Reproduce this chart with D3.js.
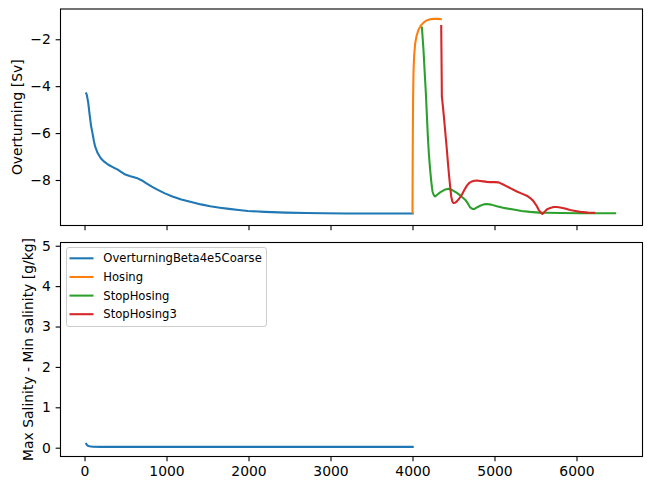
<!DOCTYPE html>
<html>
<head>
<meta charset="utf-8">
<script src="https://cdn.jsdelivr.net/npm/d3@7"></script>
<style>
  html, body { margin: 0; padding: 0; background: #fff; }
  svg { display: block; }
  text { font-family: "DejaVu Sans", sans-serif; fill: #000; }
</style>
</head>
<body>
<script>
// ---- data ----
const seriesNames = ["OverturningBeta4e5Coarse", "Hosing", "StopHosing", "StopHosing3"];
const seriesColors = ["#1f77b4", "#ff7f0e", "#2ca02c", "#d62728"];

const overturningBase = [
  [15,-4.27],[28,-4.37],[45,-4.7],[60,-5.15],[80,-5.7],[97,-6.0],[115,-6.35],[129,-6.57],[160,-6.85],[198,-7.07],
  [240,-7.22],[290,-7.35],[350,-7.46],[405,-7.56],[450,-7.66],[497,-7.77],[560,-7.84],[635,-7.91],
  [700,-8.02],[750,-8.13],[820,-8.28],[888,-8.41],[980,-8.57],[1072,-8.70],[1180,-8.83],[1302,-8.94],
  [1420,-9.04],[1532,-9.12],[1650,-9.18],[1762,-9.23],[1880,-9.28],[1992,-9.32],[2200,-9.36],
  [2452,-9.39],[2700,-9.41],[2912,-9.42],[3200,-9.43],[3500,-9.43],[3800,-9.43],[4015,-9.43]
];
const overturningHosing = [
  [4000,-9.43],[4002,-7.5],[4004,-6.0],[4007,-4.6],[4012,-3.4],[4020,-2.7],[4033,-2.17],[4050,-1.85],
  [4073,-1.60],[4100,-1.42],[4134,-1.29],[4170,-1.20],[4215,-1.15],[4260,-1.13],[4310,-1.13],[4358,-1.15]
];
const overturningStop = [
  [4114,-1.46],[4134,-2.46],[4150,-3.5],[4163,-4.30],[4187,-6.14],[4200,-6.9],[4215,-7.56],[4230,-8.1],
  [4244,-8.49],[4260,-8.65],[4276,-8.70],[4305,-8.62],[4337,-8.53],[4390,-8.42],[4439,-8.37],[4490,-8.44],
  [4541,-8.55],[4590,-8.68],[4642,-8.84],[4675,-9.0],[4703,-9.17],[4730,-9.23],[4752,-9.24],[4790,-9.16],
  [4825,-9.10],[4870,-9.04],[4907,-9.02],[4960,-9.05],[5028,-9.12],[5130,-9.20],[5232,-9.26],[5330,-9.32],
  [5435,-9.36],[5540,-9.39],[5638,-9.40],[5800,-9.41],[6045,-9.42],[6250,-9.42],[6484,-9.42]
];
const overturningStop3 = [
  [4350,-1.39],[4353,-2.5],[4356,-3.6],[4358,-4.44],[4372,-4.9],[4386,-5.43],[4402,-6.05],[4419,-6.71],
  [4433,-7.3],[4447,-7.85],[4460,-8.3],[4472,-8.70],[4486,-8.92],[4500,-8.98],[4520,-8.97],[4541,-8.91],
  [4570,-8.79],[4602,-8.63],[4632,-8.43],[4663,-8.24],[4694,-8.12],[4724,-8.06],[4755,-8.03],[4785,-8.02],
  [4825,-8.04],[4866,-8.06],[4907,-8.08],[4947,-8.09],[5000,-8.09],[5049,-8.10],[5100,-8.18],[5150,-8.27],
  [5210,-8.38],[5272,-8.49],[5333,-8.58],[5394,-8.67],[5440,-8.78],[5476,-8.91],[5510,-9.08],[5537,-9.26],
  [5562,-9.38],[5585,-9.45],[5610,-9.36],[5638,-9.26],[5680,-9.19],[5720,-9.15],[5760,-9.15],[5801,-9.17],
  [5860,-9.22],[5923,-9.28],[5985,-9.32],[6045,-9.36],[6140,-9.39],[6228,-9.40]
];
const salinityBase = [
  [15,0.12],[25,0.08],[40,0.05],[60,0.035],[100,0.025],[200,0.02],[1000,0.02],[2000,0.02],[3000,0.02],[4015,0.02]
];

const xTicks = [0, 1000, 2000, 3000, 4000, 5000, 6000];
const topYTicks = [-8, -6, -4, -2];
const bottomYTicks = [0, 1, 2, 3, 4, 5];

const topSeries = [overturningBase, overturningHosing, overturningStop, overturningStop3];
const bottomSeries = [salinityBase];

// ---- layout ----
const W = 651, H = 491;
const svg = d3.select("body").append("svg").attr("width", W).attr("height", H);

const x = d3.scaleLinear().domain([-293, 6805]).range([60.5, 642.5]);
const yTop = d3.scaleLinear().domain([-9.94, -0.71]).range([225.5, 9]);
const yBot = d3.scaleLinear().domain([-0.218, 5.08]).range([456.5, 242.5]);

const fontSize = 13.9;
const minus = v => (v < 0 ? "\u2212" + Math.abs(v) : String(v));

function panel(yScale, series, yTicks, showXLabels, ylabel, labelX) {
  const [y0, y1] = yScale.range();
  const g = svg.append("g");
  // lines
  const line = d3.line().x(d => x(d[0])).y(d => yScale(d[1]));
  series.forEach((s, i) => {
    g.append("path").datum(s)
      .attr("d", line)
      .attr("fill", "none")
      .attr("stroke", seriesColors[i])
      .attr("stroke-width", 2.08)
      .attr("stroke-linejoin", "round")
      .attr("stroke-linecap", "butt");
  });
  // frame
  g.append("rect")
    .attr("x", x.range()[0]).attr("y", y1)
    .attr("width", x.range()[1] - x.range()[0]).attr("height", y0 - y1)
    .attr("fill", "none").attr("stroke", "#000").attr("stroke-width", 1.1);

  // x axis
  const xAxis = d3.axisBottom(x).tickValues(xTicks).tickSize(4.86).tickPadding(4.86)
    .tickFormat(showXLabels ? d3.format("d") : () => "");
  const xg = g.append("g").attr("transform", `translate(0,${y0})`).call(xAxis);
  xg.select(".domain").remove();
  xg.selectAll(".tick line").attr("stroke", "#000").attr("stroke-width", 1.1);
  xg.selectAll(".tick text").attr("font-size", fontSize).attr("font-family", "DejaVu Sans").attr("fill", "#000");

  // y axis
  const yAxis = d3.axisLeft(yScale).tickValues(yTicks).tickSize(4.86).tickPadding(4.86).tickFormat(minus);
  const yg = g.append("g").attr("transform", `translate(${x.range()[0]},0)`).call(yAxis);
  yg.select(".domain").remove();
  yg.selectAll(".tick line").attr("stroke", "#000").attr("stroke-width", 1.1);
  yg.selectAll(".tick text").attr("font-size", fontSize).attr("font-family", "DejaVu Sans").attr("fill", "#000");

  // y label
  svg.append("text")
    .attr("transform", `translate(${labelX},${(y0 + y1) / 2}) rotate(-90)`)
    .attr("text-anchor", "middle")
    .attr("dominant-baseline", "central")
    .attr("font-size", fontSize)
    .text(ylabel);
}

panel(yTop, topSeries, topYTicks, false, "Overturning [Sv]", 16.5);
panel(yBot, bottomSeries, bottomYTicks, true, "Max Salinity - Min salinity [g/kg]", 27.5);

// ---- legend ----
const lg = svg.append("g");
const legX = 66.5, legY = 247.5, legW = 200, legH = 79;
lg.append("rect")
  .attr("x", legX).attr("y", legY).attr("width", legW).attr("height", legH)
  .attr("rx", 2.5).attr("ry", 2.5)
  .attr("fill", "#fff").attr("fill-opacity", 0.8)
  .attr("stroke", "#cccccc").attr("stroke-width", 1);
const rowY = [258.3, 277, 295.6, 314.2];
seriesNames.forEach((name, i) => {
  lg.append("line")
    .attr("x1", 69.5).attr("x2", 93.5)
    .attr("y1", rowY[i]).attr("y2", rowY[i])
    .attr("stroke", seriesColors[i]).attr("stroke-width", 2.08);
  lg.append("text")
    .attr("x", 103.3).attr("y", rowY[i])
    .attr("dominant-baseline", "central")
    .attr("font-size", 11.6)
    .text(name);
});
</script>
</body>
</html>
